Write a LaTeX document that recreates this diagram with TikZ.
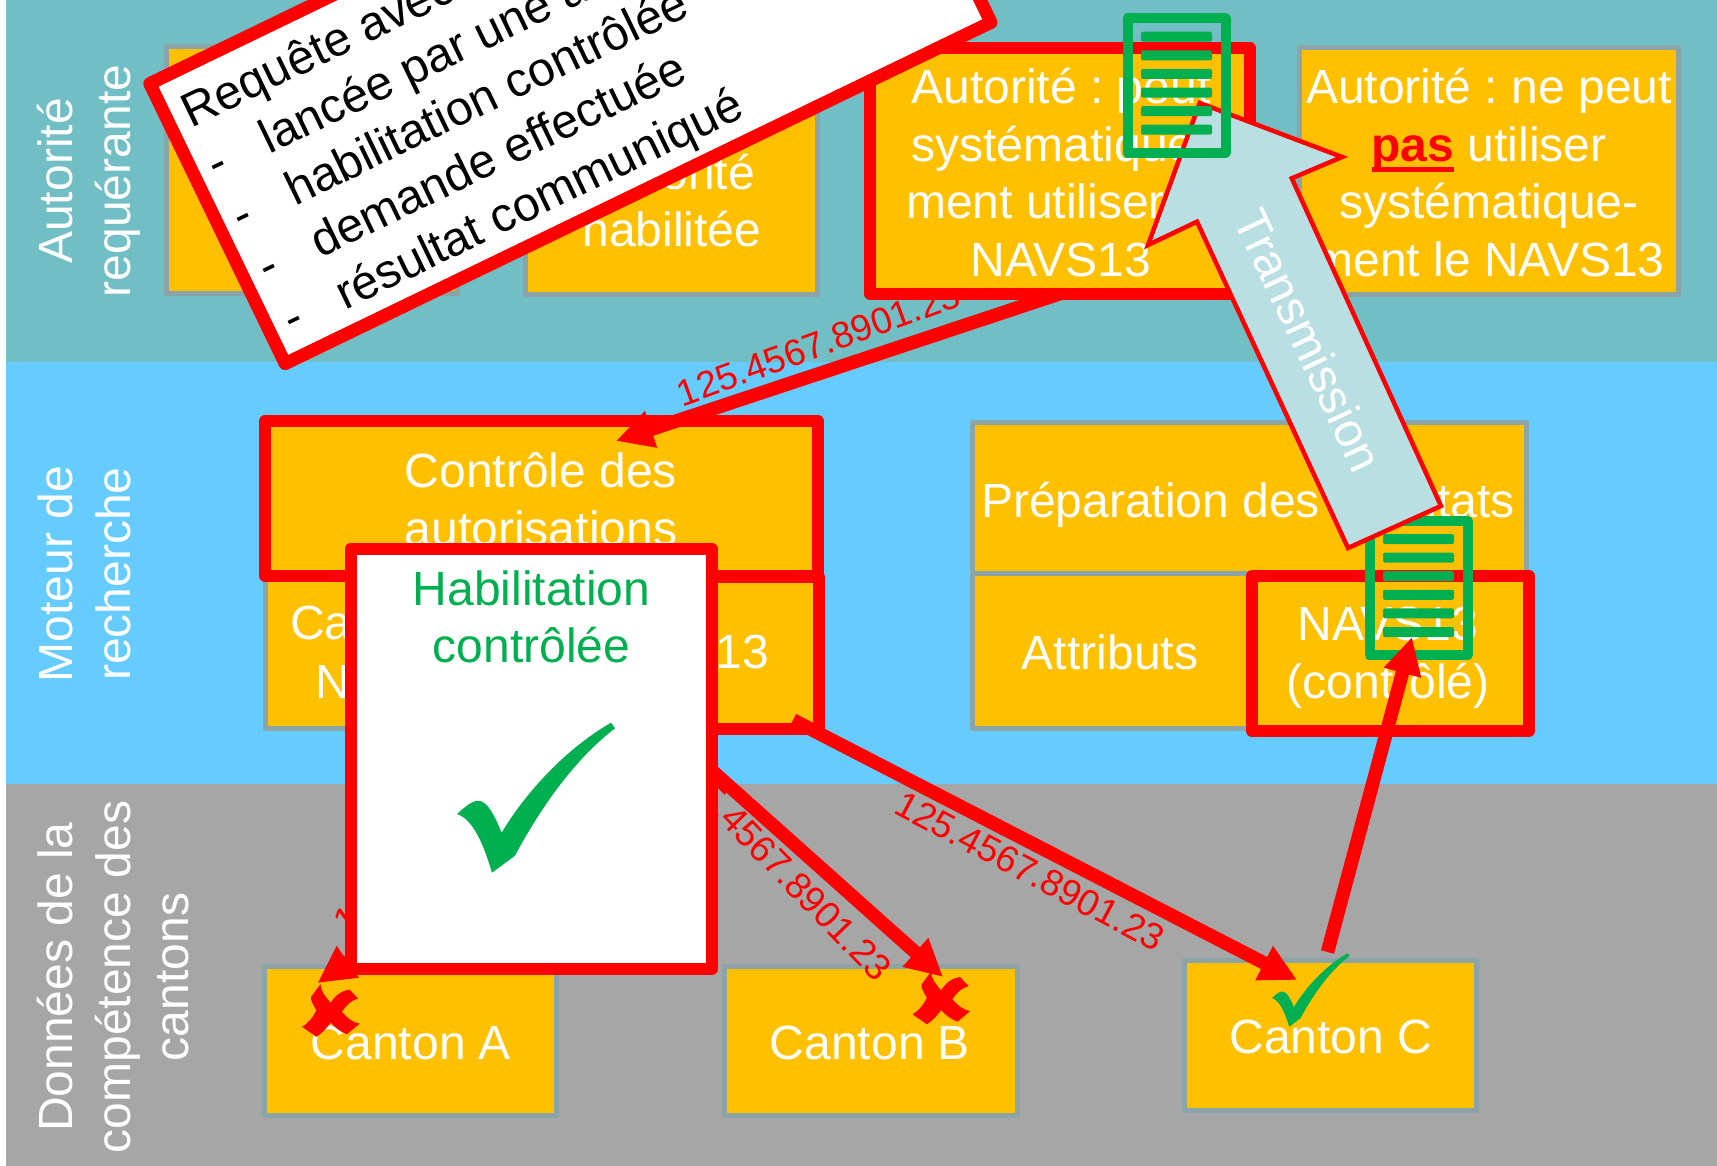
\documentclass[tikz,border=0pt]{standalone}
\usepackage{fontspec}
\setmainfont{Liberation Sans}
\usetikzlibrary{arrows.meta}

\definecolor{bandteal}{HTML}{72BEC5}
\definecolor{bandblue}{HTML}{66CCFF}
\definecolor{bandgrey}{HTML}{A6A6A6}
\definecolor{boxorange}{HTML}{FFC000}
\definecolor{boxedge}{HTML}{8AA4A8}
\definecolor{arrowfill}{HTML}{B9DFE3}
\definecolor{okgreen}{HTML}{00B050}

\newcommand{\thickul}[1]{\setbox0\hbox{#1}\rlap{\rule[-11pt]{\wd0}{5pt}}\box0}
\frenchspacing

\begin{document}
\begin{tikzpicture}[x=1pt,y=-1pt]

        %--- Base styles for all nodes:
        \tikzstyle{plain box}=[draw=boxedge, fill=boxorange, line width=5pt, line join=round, inner sep=0pt]
        \tikzstyle{red box}=[draw=red, fill=boxorange, line width=12pt, line join=round, inner sep=0pt]
        \tikzstyle{box text}=[font=\fontsize{48}{57.7}\selectfont, text=white, align=center, inner sep=0pt, anchor=base]
        \tikzstyle{side text}=[box text, rotate=90]
        \tikzstyle{id text}=[font=\fontsize{37}{42}\selectfont, text=red, inner sep=0pt, anchor=base]
        \tikzstyle{red arrow}=[draw=red, line width=13.5pt, -{Triangle[length=37pt,width=36pt]}]
        \tikzset{
            tick mark/.pic={
                \fill[okgreen] (0,1) .. controls (7,-5) and (14,-12) .. (21.3,-12.3) .. controls (31,-12) and (38,4) .. (44.7,19.7)
                    .. controls (65,-15) and (105,-62) .. (154,-90.3) -- (158,-84.7)
                    .. controls (118,-54) and (84,-6) .. (58,42.7) -- (35,59.7)
                    .. controls (27,33) and (17,7) .. (0,1) -- cycle;
            },
            cross mark/.pic={
                \fill[red] (18.4,0.7) .. controls (19,8) and (23,13) .. (28.6,19.3) .. controls (33,12) and (40,7) .. (47.4,6)
                    -- (56,15) .. controls (49,17) and (44,22) .. (39.8,28.3) .. controls (45,34) and (50,39) .. (57.7,40)
                    -- (45,50.7) .. controls (38,48) and (33,44) .. (28.6,39.3) .. controls (24,45) and (20,50) .. (14.3,53.3)
                    -- (0,43.3) .. controls (6,40) and (11,34) .. (14.3,26.7) .. controls (11,21) and (8,16) .. (9.2,13.3) -- cycle;
            },
            doc sheet/.pic={
                \draw[okgreen, line width=10pt, line join=round] (-49,-67.25) rectangle (49,67.25);
                \foreach \i in {0,...,5}
                    \fill[okgreen, rounded corners=2pt] (-35.5,-54+18.6*\i) rectangle (35.5,-44+18.6*\i);
            }
        }

        \useasboundingbox (0,0) rectangle (1717,1166);

        %--- Background bands
        \fill[bandteal] (6,0) rectangle (1717,362);
        \fill[bandblue] (6,362) rectangle (1717,784);
        \fill[bandgrey] (6,784) rectangle (1717,1166);

        \node[side text] (sideAuth) at (130,181) {Autorité\\requérante};
        \node[side text] (sideMoteur) at (130,574) {Moteur de\\recherche};
        \node[side text] (sideDonnees) at (188,977) {Données de la\\compétence des\\cantons};

        %--- Top row
        \node[plain box, minimum width=291.5pt, minimum height=247pt] (autA) at (311.75,170) {};
        \node[plain box, minimum width=292pt, minimum height=248pt] (autB) at (671.5,170.5) {};
        \node[box text] (autBtext) at (672,247) {Autorité\\habilitée};
        \node[plain box, minimum width=379pt, minimum height=246.5pt] (autD) at (1489,171.25) {};
        \node[box text] (autDtext) at (1489,276.5) {Autorité : ne peut\\{\color{red}\bfseries\thickul{pas}} utiliser\\systématique-\\ment le NAVS13};

        %--- Number written along the first arrow
        \node[id text, rotate=20] (idCtrl) at (823,356) {125.4567.8901.23};
        \node[id text, rotate=36, anchor=base west] (idA) at (345,937) {125.4567.8901.23};
        \node[id text, rotate=-28] (idC) at (1024,882.5) {125.4567.8901.23};

        %--- Search engine, left part
        \node[plain box, minimum width=260pt, minimum height=152pt] (cantonNum) at (395,652) {};
        \node[box text, anchor=base west] (cantonNumA) at (290,639) {Ca};
        \node[box text, anchor=base west] (cantonNumB) at (315,698) {N};
        \node[red box, minimum width=294pt, minimum height=152pt] (navsIn) at (672,653) {};
        \node[box text] (navsInText) at (679,668) {NAVS13};
        \node[red box, minimum width=553pt, minimum height=155pt] (ctrl) at (541.5,498.5) {};
        \node[box text] (ctrlText) at (541,545.5) {Contrôle des\\autorisations};

        %--- Request goes down to the control box
        \coordinate (reqOut) at (1062,293);
        \coordinate (tipCtrl) at (616,441);
        \draw[red arrow] (reqOut) -- (tipCtrl);
        \node[red box, minimum width=380pt, minimum height=246pt] (autC) at (1060,171) {};
        \node[box text] (autCtext) at (1061,276.5) {Autorité : peut\\systématique-\\ment utiliser le\\NAVS13};

        %--- Search engine, right part
        \node[plain box, minimum width=554pt, minimum height=151pt] (prep) at (1249.5,498) {};
        \node[box text] (prepText) at (1248,517) {Préparation des résultats};
        \node[plain box, minimum width=277pt, minimum height=155pt] (attr) at (1111,651) {};
        \node[box text] (attrText) at (1110,669) {Attributs};
        \node[red box, minimum width=277pt, minimum height=155pt] (navsCtrl) at (1390.5,653.5) {};
        \node[box text] (navsCtrlText) at (1388,698) {NAVS13\\(contrôlé)};
        \pic (docB) at (1418.5,588) {doc sheet};

        %--- Cantons
        \node[plain box, minimum width=292.5pt, minimum height=149.5pt] (cantonA) at (410.25,1040.75) {};
        \node[box text] (cantonAtext) at (411,1059) {Canton A};
        \node[plain box, minimum width=292.5pt, minimum height=149.5pt] (cantonB) at (870.75,1040.75) {};
        \node[box text] (cantonBtext) at (870,1059) {Canton B};
        \node[plain box, minimum width=292pt, minimum height=149.5pt] (cantonC) at (1330.5,1035.25) {};
        \node[box text] (cantonCtext) at (1331,1053.7) {Canton C};
        \pic (crossA) at (302,983.5) {cross mark};
        \pic (crossB) at (912.5,971) {cross mark};
        \node[id text, rotate=-46] (idB) at (772,876) {125.4567.8901.23};

        %--- Arrows to and from the cantons
        \coordinate (tipA) at (317.5,983);
        \coordinate (tipB) at (943,977);
        \coordinate (tipC) at (1297,980);
        \coordinate (navsOut) at (793,720);
        \coordinate (tipNavs) at (1412,637);
        \draw[red arrow] (navsIn.south) -- (tipA);
        \draw[red arrow] (navsIn.south) -- (tipB);
        \draw[red arrow] (navsOut) -- (tipC);
        \draw[red arrow] ([xshift=-3pt,yshift=6pt]cantonC.north) -- (tipNavs);
        \pic[scale=.49] (tickC) at (1272,997.5) {tick mark};

        %=== Check box on top of the engine
        \node[draw=red, fill=white, line width=12pt, line join=round, minimum width=361.5pt, minimum height=420pt, inner sep=0pt] (habil) at (531.25,759) {};
        \node[box text, text=okgreen] (habilText) at (531.5,662.7) {Habilitation\\contrôlée};
        \pic (tickBig) at (457,813) {tick mark};

        %=== Request note, turned
        \node[draw=red, fill=white, line width=13pt, line join=round, minimum width=784pt, minimum height=311pt, inner sep=0pt, rotate=25.8] (note) at (570.4,53) {};
        \node[box text, text=black, align=left, rotate=25.8, anchor=base west] (noteText) at (292,336) {Requête avec\\\makebox[59pt][l]{-}lancée par une a\\\makebox[59pt][l]{-}habilitation contrôlée\\\makebox[59pt][l]{-}demande effectuée\\\makebox[59pt][l]{-}résultat communiqué};

        %=== Transmission arrow, then the sheet on top of it
        \draw[red, fill=arrowfill, line width=4.5pt, miter limit=10] (1199.7,103) -- (1342,157) -- (1291.8,178.3) -- (1441,506) -- (1348,548) -- (1197,221.7) -- (1148,245) -- cycle;
        \node[box text, anchor=center, rotate=-64.7] (transText) at (1309,340) {Transmission};
        \pic (docA) at (1176.5,85.75) {doc sheet};

\end{tikzpicture}
\end{document}
